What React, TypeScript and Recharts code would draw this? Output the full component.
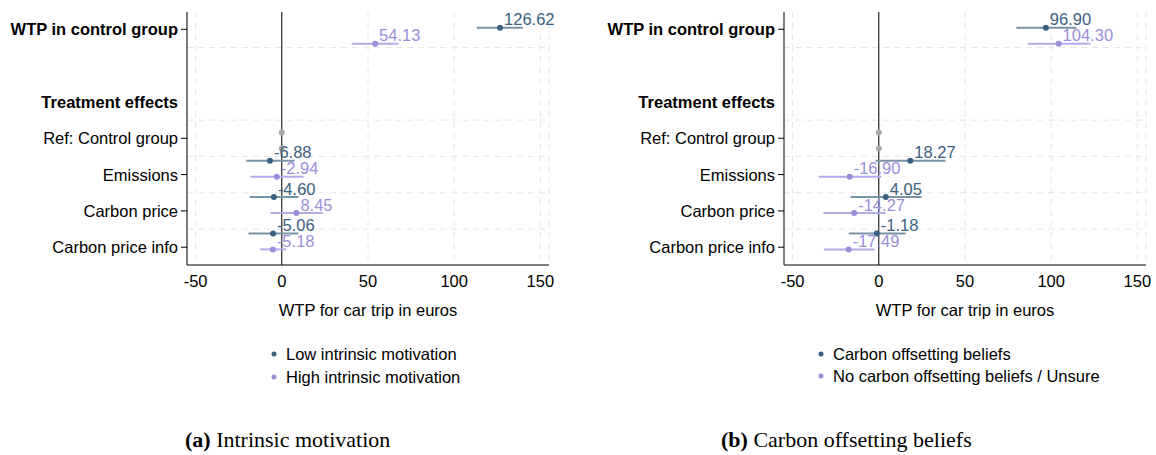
import React from 'react';
import { ScatterChart, Scatter, XAxis, YAxis, CartesianGrid, ReferenceLine, ErrorBar } from 'recharts';

// ---- categories / ticks ----
const rowLabels = ['WTP in control group', '', 'Treatment effects', 'Ref: Control group', 'Emissions', 'Carbon price', 'Carbon price info'];
const yTickRows = [0, 2, 3, 4, 5, 6];
const boldRows = [0, 2];
const noTickRows = [2];
const estRows = [0, 4, 5, 6]; // WTP, Emissions, Carbon price, Carbon price info
const refRow = 3;
const xTicks = [-50, 0, 50, 100, 150];
const gridRows = [0.5, 2.5, 3.5, 4.5, 5.5];

// ---- Panel (a): Intrinsic motivation ----
const aLowEst = [126.62, -6.88, -4.6, -5.06];
const aLowLo = [113.1, -20.6, -18.6, -19.3];
const aLowHi = [139.8, 7.4, 9.7, 9.7];
const aHighEst = [54.13, -2.94, 8.45, -5.18];
const aHighLo = [40.6, -18.2, -6.6, -12.5];
const aHighHi = [67.7, 12.6, 23.8, 2.6];

// ---- Panel (b): Carbon offsetting beliefs ----
const bOffEst = [96.9, 18.27, 4.05, -1.18];
const bOffLo = [79.8, -1.9, -16.4, -17.4];
const bOffHi = [114.6, 38.7, 24.8, 15.5];
const bNoEst = [104.3, -16.9, -14.27, -17.49];
const bNoLo = [86.5, -34.8, -32.1, -31.9];
const bNoHi = [122.8, 1.4, 3.9, -2.5];

const refValues = [0, 0];

// ---- styling ----
const DARK = '#3c6180';
const DARK_CI = '#7892a6';
const LIGHT = '#9a8fdb';
const LIGHT_CI = '#b3aae8';
const GRAY = '#a8a8a8';
const GRID = '#e6e6e6';
const FONT = '"Liberation Sans", Arial, Helvetica, sans-serif';
const FS = 16.5;

// vertical offsets of the two series within a row (layout only)
const darkOffsets = [-0.04, -0.38, -0.38, -0.38];
const lightOffsets = [0.4, 0.06, 0.06, 0.06];
const refOffsets = [-0.16, 0.28];

type Pt = { x: number; y: number; err: number[]; label: string };

function buildSeries(est: number[], lo: number[], hi: number[], offsets: number[]): Pt[] {
  return est.map((v, i) => ({
    x: v,
    y: estRows[i] + offsets[i],
    err: [v - lo[i], hi[i] - v],
    label: v.toFixed(2),
  }));
}

const refData = refValues.map((v, i) => ({ x: v, y: refRow + refOffsets[i], err: [0, 0], label: '' }));

const makeShape = (color: string) => (props: any) => {
  const { cx, cy, payload } = props;
  if (cx == null || cy == null) return <g />;
  return (
    <g>
      <circle cx={cx} cy={cy} r={3} fill={color} />
      {payload && payload.label ? (
        <text x={cx + 4} y={cy - 2.5} fontSize={FS} fill={color} fontFamily={FONT}>
          {payload.label}
        </text>
      ) : null}
    </g>
  );
};

const YTick = (props: any) => {
  const { x, y, payload } = props;
  const idx = payload.value as number;
  const bold = boldRows.includes(idx);
  return (
    <g>
      {!noTickRows.includes(idx) && <line x1={x + 3} x2={x + 9} y1={y} y2={y} stroke="#000" strokeWidth={1} />}
      <text x={x} y={y} textAnchor="end" dominantBaseline="central" fontSize={FS} fontWeight={bold ? 700 : 400} fill="#000" fontFamily={FONT}>
        {rowLabels[idx]}
      </text>
    </g>
  );
};

function Panel({ dark, light, width, right }: { dark: Pt[]; light: Pt[]; width: number; right: number }) {
  return (
    <ScatterChart width={width} height={320} margin={{ top: 12, right, bottom: 0, left: 0 }} style={{ fontFamily: FONT, overflow: 'visible' }}>
      <CartesianGrid horizontal={false} stroke={GRID} strokeDasharray="6 5" />
      {gridRows.map((r) => (
        <ReferenceLine key={r} y={r} stroke={GRID} strokeDasharray="6 5" />
      ))}
      <XAxis
        type="number"
        dataKey="x"
        domain={[-55, 155]}
        ticks={xTicks}
        interval={0}
        tickLine={false}
        tickSize={6}
        tickMargin={4}
        axisLine={{ stroke: '#000' }}
        tick={{ fontSize: FS, fill: '#000' }}
        height={55}
        label={{ value: 'WTP for car trip in euros', position: 'insideBottom', offset: 4, fontSize: FS, fill: '#000' }}
      />
      <YAxis
        type="number"
        dataKey="y"
        domain={[-0.477, 6.49]}
        reversed
        ticks={yTickRows}
        interval={0}
        tickLine={false}
        tickSize={6}
        tickMargin={3}
        width={187}
        axisLine={{ stroke: '#000' }}
        tick={<YTick />}
      />
      <ReferenceLine x={0} stroke="#000" strokeWidth={1} />
      <Scatter data={refData} shape={makeShape(GRAY)} isAnimationActive={false} />
      <Scatter data={dark} shape={makeShape(DARK)} isAnimationActive={false}>
        <ErrorBar dataKey="err" direction="x" width={0} stroke={DARK_CI} strokeWidth={2} />
      </Scatter>
      <Scatter data={light} shape={makeShape(LIGHT)} isAnimationActive={false}>
        <ErrorBar dataKey="err" direction="x" width={0} stroke={LIGHT_CI} strokeWidth={2} />
      </Scatter>
    </ScatterChart>
  );
}

export default function App() {
  const aLow = buildSeries(aLowEst, aLowLo, aLowHi, darkOffsets);
  const aHigh = buildSeries(aHighEst, aHighLo, aHighHi, lightOffsets);
  const bOff = buildSeries(bOffEst, bOffLo, bOffHi, darkOffsets);
  const bNo = buildSeries(bNoEst, bNoLo, bNoHi, lightOffsets);
  return (
    <div style={{ position: 'absolute', left: 0, top: 0, width: 1156, height: 455, overflow: 'hidden', background: '#fff', fontFamily: FONT }}>
      <div style={{ position: 'absolute', left: 0, top: 0 }}>
        <Panel dark={aLow} light={aHigh} width={578} right={29} />
      </div>
      <div style={{ position: 'absolute', left: 597, top: 0 }}>
        <Panel dark={bOff} light={bNo} width={559} right={10} />
      </div>
      <svg width={1156} height={455} style={{ position: 'absolute', left: 0, top: 0, pointerEvents: 'none' }}>
        <circle cx={274} cy={354} r={2.5} fill={DARK} />
        <text x={286} y={354} dominantBaseline="central" fontSize={FS} fill="#000" fontFamily={FONT}>Low intrinsic motivation</text>
        <circle cx={274} cy={377} r={2.5} fill={LIGHT} />
        <text x={286} y={377} dominantBaseline="central" fontSize={FS} fill="#000" fontFamily={FONT}>High intrinsic motivation</text>
        <circle cx={821} cy={354} r={2.5} fill={DARK} />
        <text x={833} y={354} dominantBaseline="central" fontSize={FS} fill="#000" fontFamily={FONT}>Carbon offsetting beliefs</text>
        <circle cx={821} cy={376} r={2.5} fill={LIGHT} />
        <text x={833} y={376} dominantBaseline="central" fontSize={FS} fill="#000" fontFamily={FONT}>No carbon offsetting beliefs / Unsure</text>
        <text x={185} y={447} fontSize={22} fill="#000" fontFamily={'"Liberation Serif", "Times New Roman", serif'}>
          <tspan fontWeight={700}>(a)</tspan> Intrinsic motivation
        </text>
        <text x={721} y={447} fontSize={22} fill="#000" fontFamily={'"Liberation Serif", "Times New Roman", serif'}>
          <tspan fontWeight={700}>(b)</tspan> Carbon offsetting beliefs
        </text>
      </svg>
    </div>
  );
}
